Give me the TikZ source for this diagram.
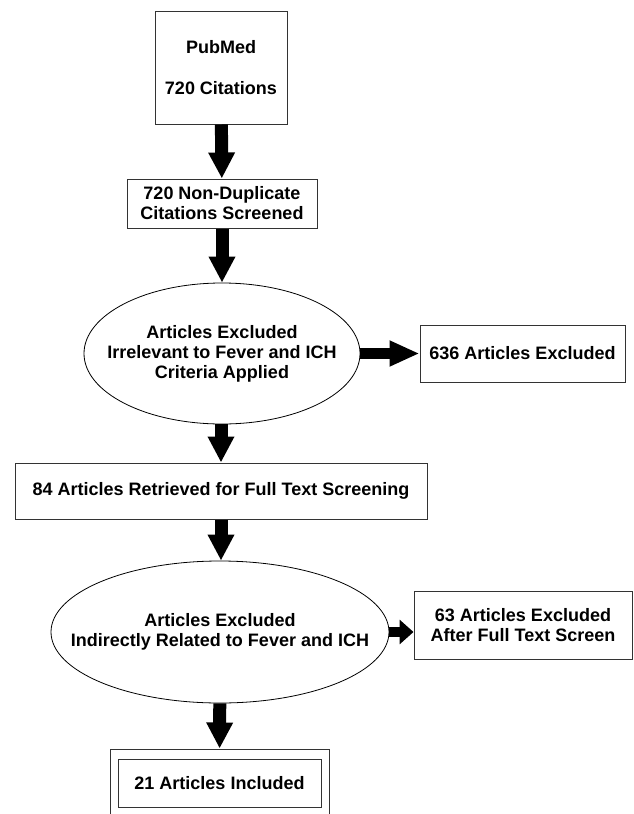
\documentclass[tikz,border=0pt]{standalone}
\usepackage{fontspec}
\setmainfont{Liberation Sans}
\usepackage{tikz}
\usetikzlibrary{shapes, arrows.meta, positioning}
\tikzstyle{block} = [draw=black!80, line width=1pt, fill=white, rectangle, align=center, inner sep=0pt]
\tikzstyle{oval} = [draw, line width=0.8pt, ellipse, inner sep=0pt]
\tikzstyle{fat} = [line width=13pt, -{Triangle[length=26pt, width=25pt]}]
\tikzstyle{fatside} = [line width=11pt, -{Triangle[length=30pt, width=24pt]}]
\tikzstyle{stubside} = [line width=10pt, -{Triangle[length=14pt, width=24pt]}]

\begin{document}
\begin{tikzpicture}[font=\fontsize{18}{20}\selectfont\bfseries]
  \useasboundingbox (0pt,0pt) rectangle (633pt,-814pt);
  \node[block, minimum width=132pt, minimum height=113pt] at (221pt,-67.5pt) (pubmed) {PubMed\\[21pt]720 Citations};
  \node[block, below of=pubmed, node distance=136pt, minimum width=190pt, minimum height=49pt, xshift=1pt] (screened) {720 Non-Duplicate\\Citations Screened};
  \node[oval, below of=screened, node distance=150pt, minimum width=276pt, minimum height=141pt] (excl1) {};
  \node[align=center] at (excl1) (excl1text) {Articles Excluded\\Irrelevant to Fever and ICH\\Criteria Applied};
  \node[block, right of=excl1, node distance=300.5pt, minimum width=205pt, minimum height=57pt] (excl1n) {636 Articles Excluded};
  \node[block, below of=excl1, node distance=137.5pt, minimum width=412pt, minimum height=56pt, xshift=-1pt] (retrieved) {84 Articles Retrieved for Full Text Screening};
  \node[oval, below of=retrieved, node distance=141pt, minimum width=338pt, minimum height=142pt, xshift=-1pt] (excl2) {};
  \node[align=center] at (excl2) (excl2text) {Articles Excluded\\Indirectly Related to Fever and ICH};
  \node[block, right of=excl2, node distance=303pt, yshift=7pt, minimum width=218pt, minimum height=68pt] (excl2n) {63 Articles Excluded\\After Full Text Screen};
  \node[block, below of=excl2, node distance=151pt, minimum width=219pt, minimum height=68pt, xshift=-0.5pt] (frame) {};
  \node[block, minimum width=203pt, minimum height=48pt] at (frame) (included) {21 Articles Included};

  \draw[fat] (pubmed) -- (screened);
  \draw[fat] (screened) -- (excl1);
  \draw[fatside] (excl1) -- (excl1n);
  \draw[fat] (excl1.south -| retrieved) -- (retrieved);
  \draw[fat] (retrieved) -- (excl2.north -| retrieved);
  \draw[stubside] (excl2.east) -- (excl2.east -| excl2n.west);
  \draw[fat] (excl2) -- (frame);
\end{tikzpicture}
\end{document}
